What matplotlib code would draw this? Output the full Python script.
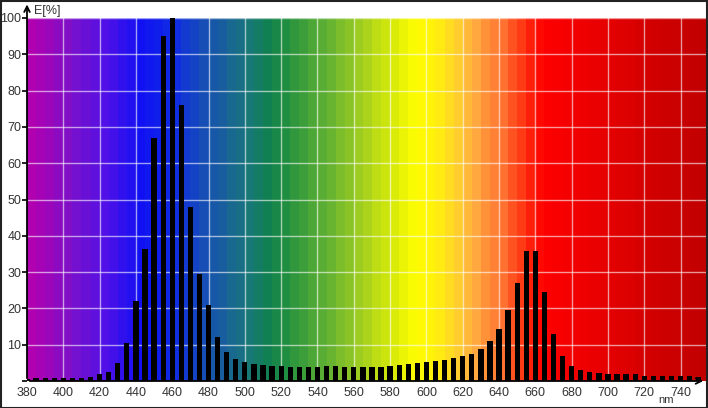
import matplotlib.pyplot as plt
import numpy as np
from matplotlib.colors import LinearSegmentedColormap

# spectrum bars every 5 nm
wavelength = list(range(380, 755, 5))
energy = [0.6, 0.8, 0.8, 0.8, 0.9, 0.8, 0.8, 1.2, 1.8, 2.5,
          5.0, 10.5, 22.0, 36.5, 67.0, 95.0, 100.0, 76.0, 48.0, 29.5,
          21.0, 12.0, 8.0, 6.0, 5.2, 4.6, 4.5, 4.2, 4.0, 3.9,
          3.8, 3.8, 3.8, 4.0, 4.0, 3.9, 3.8, 3.8, 3.8, 3.8,
          4.1, 4.4, 4.6, 4.9, 5.2, 5.6, 5.8, 6.2, 6.8, 7.4,
          8.7, 11.1, 14.4, 19.5, 27.0, 35.8, 35.8, 24.6, 13.0, 7.0,
          4.1, 3.0, 2.6, 2.1, 1.8, 1.8, 1.8, 1.8, 1.5, 1.5,
          1.5, 1.5, 1.5, 1.5, 1.2]

# background colour stops (nm, colour)
stop_nm = [380, 400, 420, 440, 460, 480, 500, 510, 520, 540, 560, 580, 592,
           605, 615, 625, 640, 652, 662, 680, 700, 720, 755]
stop_col = ['#b000b0', '#8010c8', '#5010e8', '#1010f4', '#1030e0', '#1858a8',
            '#187878', '#10804e', '#229040', '#5aae34', '#9ccc22', '#dcec08',
            '#ffff00', '#ffee10', '#ffcc30', '#ffa840', '#ff7030', '#ff3010',
            '#ff0000', '#f20000', '#e40000', '#d40000', '#c00000']

xmin, xmax = 380, 754

fig = plt.figure(figsize=(7.08, 4.08), dpi=100)
ax = fig.add_axes([27 / 708, 27 / 408, 679 / 708, 363 / 408])

pos = [(n - xmin) / (xmax - xmin) for n in stop_nm]
pos[-1] = 1.0
cmap = LinearSegmentedColormap.from_list('spec', list(zip(pos, stop_col)))
bands = np.arange(xmin, xmax + 5, 5)
ax.imshow([(bands - xmin) / (xmax - xmin)], cmap=cmap, vmin=0, vmax=1,
          extent=[xmin, bands[-1] + 5, 0, 100], aspect='auto', zorder=0)

ax.set_xlim(xmin, xmax)
ax.set_ylim(0, 100)

for x in range(400, 751, 20):
    ax.axvline(x, color='white', lw=1, alpha=0.6, zorder=1)
for y in range(10, 101, 10):
    ax.axhline(y, color='white', lw=1, alpha=0.6, zorder=1)

ax.bar(wavelength, energy, width=2.9, color='black', zorder=2)

for s in ax.spines.values():
    s.set_visible(False)

ax.set_xticks(range(380, 741, 20))
ax.set_yticks(range(0, 101, 10))
ax.set_yticklabels([''] + [str(v) for v in range(10, 101, 10)])
ax.tick_params(axis='x', length=0, pad=4, labelsize=9, labelcolor='#333333')
ax.tick_params(axis='y', length=3.5, width=1.2, direction='out', pad=0.5,
               labelsize=9, labelcolor='#333333')
for lab in ax.get_xticklabels() + ax.get_yticklabels():
    lab.set_family('Liberation Sans')

# axis arrows
ax.annotate('', xy=(0, 1.045), xytext=(0, 0), xycoords='axes fraction',
            arrowprops=dict(arrowstyle='->', lw=1.3, color='black'),
            annotation_clip=False)
ax.annotate('', xy=(1.0, 0), xytext=(0, 0), xycoords='axes fraction',
            arrowprops=dict(arrowstyle='->', lw=1.3, color='black'),
            annotation_clip=False)

fig.text(34 / 708, 1 - 11 / 408, 'E[%]', fontsize=9, color='#333333',
         family='Liberation Sans', va='center', ha='left')
fig.text(666 / 708, 1 - 400 / 408, 'nm', fontsize=8, color='#333333',
         family='Liberation Sans', va='center', ha='center')

fig.patches.append(plt.Rectangle((0.001, 0.001), 0.997, 0.996,
                                 transform=fig.transFigure, fill=False,
                                 edgecolor='#222222', lw=1.5))

fig.savefig('out.png', dpi=100)
